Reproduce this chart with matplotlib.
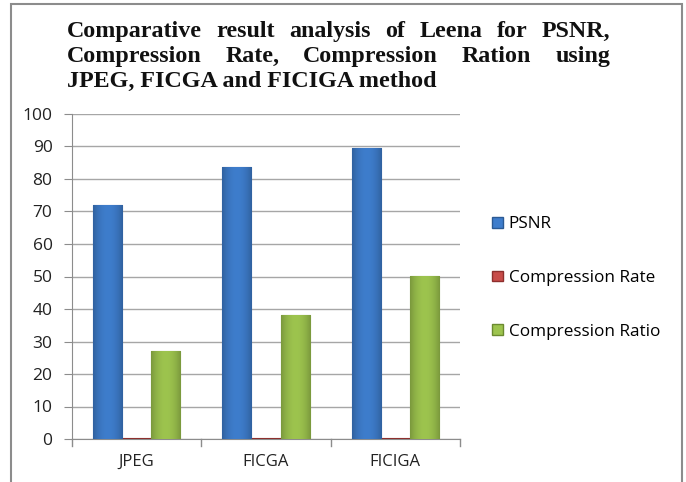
import matplotlib
matplotlib.use("Agg")
import matplotlib.pyplot as plt
import numpy as np
from matplotlib.patches import Rectangle
import matplotlib.colors as mcolors

categories = ["JPEG", "FICGA", "FICIGA"]
series_names = ["PSNR", "Compression Rate", "Compression Ratio"]
psnr = [72.0, 83.6, 89.6]
comp_rate = [0.3, 0.3, 0.3]
comp_ratio = [27.0, 38.3, 50.3]
y_ticks = [0, 10, 20, 30, 40, 50, 60, 70, 80, 90, 100]
title_lines = ["Comparative result analysis of Leena for PSNR,",
               "Compression Rate, Compression Ration using",
               "JPEG, FICGA and FICIGA method"]

face = ["#3E7DCC", "#C84C49", "#9DC44E"]
edge = ["#2B5A94", "#8E2F2D", "#6B8A30"]

W, H = 686, 482
fig = plt.figure(figsize=(W / 100, H / 100), dpi=100)
fig.patch.set_facecolor("white")

fig.add_artist(Rectangle((11 / W, -0.01), (682 - 11) / W, (H - 4) / H + 0.01,
                         transform=fig.transFigure, fill=False,
                         edgecolor="#8C8C8C", linewidth=1.5))

ax = fig.add_axes([72 / W, 1 - 439 / H, (460 - 72) / W, (439 - 114) / H])
x = np.arange(len(categories))
bw = 0.225
data = [psnr, comp_rate, comp_ratio]
for i, vals in enumerate(data):
    bars = ax.bar(x + (i - 1) * bw, vals, width=bw, color=face[i], edgecolor=edge[i],
                  linewidth=0.8, label=series_names[i], zorder=3)
    base = np.array(mcolors.to_rgb(face[i]))
    prof = 1 - 0.22 * np.abs(np.linspace(-1, 1, 64)) ** 2
    grad = np.clip(base[None, None, :] * prof[None, :, None], 0, 1)
    for b in bars:
        bx, by = b.get_x(), b.get_y()
        bwid, bh = b.get_width(), b.get_height()
        if bh < 1:
            continue
        im = ax.imshow(grad, extent=[bx, bx + bwid, by, by + bh], aspect="auto",
                       zorder=3.5, interpolation="bilinear")
        im.set_clip_path(b)

ax.set_xlim(-0.5, len(categories) - 0.5)
ax.set_ylim(0, 100)
ax.set_aspect("auto")
ax.set_yticks(y_ticks)
ax.set_yticklabels([str(t) for t in y_ticks], fontsize=12.5, family="Open Sans", color="#222222")
ax.set_xticks(x)
ax.set_xticklabels(categories, fontsize=12, family="Open Sans", color="#222222")
ax.tick_params(axis="x", length=0, pad=11)
ax.tick_params(axis="y", length=6, color="#8C8C8C", pad=8)
for b in np.arange(-0.5, len(categories), 1.0):
    ax.plot([b, b], [0, -2.0], color="#8C8C8C", lw=1, clip_on=False, zorder=4)

ax.grid(axis="y", color="#A6A6A6", linewidth=1, zorder=0)
for s in ["top", "right"]:
    ax.spines[s].set_visible(False)
ax.spines["left"].set_color("#8C8C8C")
ax.spines["bottom"].set_color("#8C8C8C")

handles = [Rectangle((0, 0), 1, 1, facecolor=face[i], edgecolor=edge[i]) for i in range(3)]
fig.legend(handles, series_names, loc="center left",
           bbox_to_anchor=(477 / W, 1 - 278 / H), frameon=False,
           prop={"family": "Open Sans", "size": 12.3}, handlelength=0.6,
           handleheight=0.6, handletextpad=0.35, labelspacing=2.2)

fig.canvas.draw()
renderer = fig.canvas.get_renderer()
left_px, right_px = 67, 610
baseline_y = [37, 62, 87]
tprops = dict(family="Liberation Serif", weight="bold", fontsize=17.3, color="#111111")
for li, line in enumerate(title_lines):
    words = line.split()
    ypos = 1 - baseline_y[li] / H
    if li < len(title_lines) - 1:
        widths = []
        for w in words:
            t = fig.text(0, 0, w, **tprops)
            widths.append(t.get_window_extent(renderer).width)
            t.remove()
        gap = (right_px - left_px - sum(widths)) / (len(words) - 1)
        xp = left_px
        for w, wd in zip(words, widths):
            fig.text(xp / W, ypos, w, va="baseline", ha="left", **tprops)
            xp += wd + gap
    else:
        fig.text(left_px / W, ypos, line, va="baseline", ha="left", **tprops)

fig.savefig("out.png", dpi=100)
